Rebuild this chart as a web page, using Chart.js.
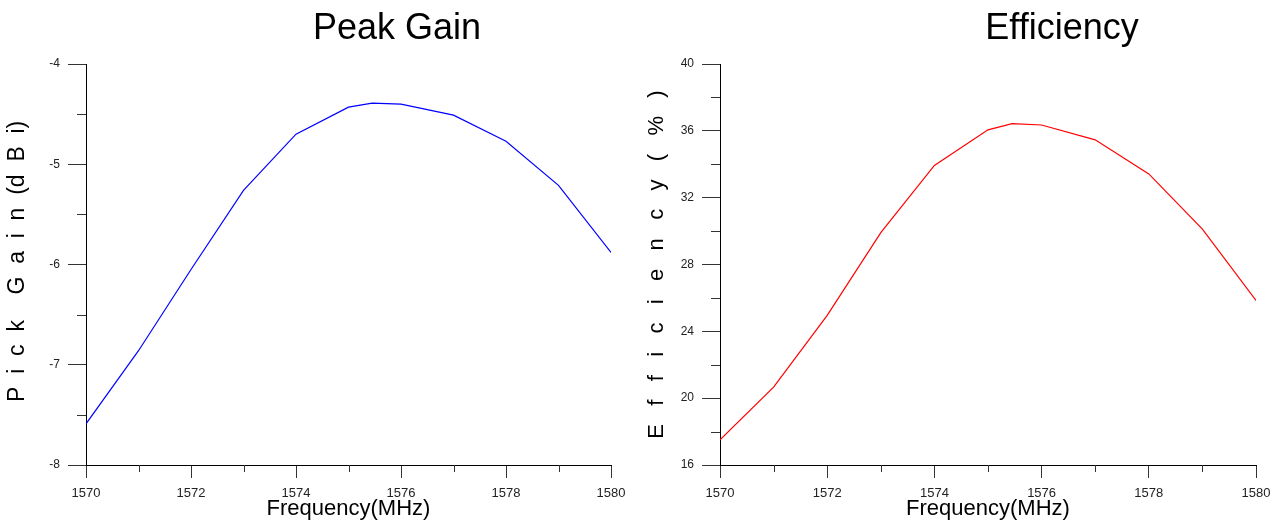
<!DOCTYPE html>
<html>
<head>
<meta charset="utf-8">
<script src="https://cdn.jsdelivr.net/npm/chart.js@4.4.1/dist/chart.umd.min.js"></script>
<style>
  html, body { margin: 0; padding: 0; background: #fff; }
  #wrap { position: relative; width: 1285px; height: 525px; }
  #c1 { position: absolute; left: 0; top: 0; }
  #c2 { position: absolute; left: 640px; top: 0; }
</style>
</head>
<body>
<div id="wrap">
  <canvas id="c1" width="640" height="525"></canvas>
  <canvas id="c2" width="645" height="525"></canvas>
</div>
<script>
// ---- data ----
const frequencies = [1570, 1571, 1572, 1573, 1574, 1575, 1575.45, 1576, 1577, 1578, 1579, 1580];
const peakGain = [-7.59, -6.86, -6.05, -5.26, -4.70, -4.43, -4.39, -4.40, -4.51, -4.77, -5.21, -5.88];
const efficiency = [17.5, 20.66, 24.96, 29.91, 33.93, 36.06, 36.43, 36.35, 35.46, 33.42, 30.12, 25.85];

const xTicksMajor = [1570, 1572, 1574, 1576, 1578, 1580];
const xTicksMinor = [1571, 1573, 1575, 1577, 1579];
const gainTicksMajor = [-8, -7, -6, -5, -4];
const gainTicksMinor = [-7.5, -6.5, -5.5, -4.5];
const effTicksMajor = [16, 20, 24, 28, 32, 36, 40];
const effTicksMinor = [18, 22, 26, 30, 34, 38];

const titles = ['Peak Gain', 'Efficiency'];
const yTitles = [' P  i  c  k    G  a  i  n  (d  B  i)', 'E   f   f   i   c   i   e   n   c   y   (   %   )'];
const xTitle = 'Frequency(MHz)';

const FONT = "'Liberation Sans', Arial, sans-serif";
const TICK_COLOR = '#333';

function isIn(arr, v) { return arr.some(a => Math.abs(a - v) < 1e-6); }

// plugin: minor ticks + big title
const extrasPlugin = {
  id: 'extras',
  afterDraw(chart, args, opts) {
    const ctx = chart.ctx;
    const xs = chart.scales.x, ys = chart.scales.y;
    ctx.save();
    ctx.strokeStyle = TICK_COLOR;
    ctx.lineWidth = 1;
    ctx.beginPath();
    opts.xMinor.forEach(v => {
      const px = Math.round(xs.getPixelForValue(v)) + 0.5;
      ctx.moveTo(px, xs.top);
      ctx.lineTo(px, xs.top + opts.xMinorLen);
    });
    opts.yMinor.forEach(v => {
      const py = Math.round(ys.getPixelForValue(v)) + 0.5;
      ctx.moveTo(ys.right, py);
      ctx.lineTo(ys.right - opts.yMinorLen, py);
    });
    ctx.stroke();
    // title
    ctx.fillStyle = '#000';
    ctx.font = '36px ' + FONT;
    ctx.textAlign = 'center';
    ctx.textBaseline = 'middle';
    ctx.fillText(opts.title, opts.titleX, opts.titleY);
    ctx.restore();
  }
};

function makeChart(canvasId, values, color, yMin, yMax, yStep, yMajor, yMinor, title, yTitle, yTitleSize, yAxisWidth, titleX) {
  return new Chart(document.getElementById(canvasId), {
    type: 'line',
    data: {
      datasets: [{
        data: frequencies.map((f, i) => ({ x: f, y: values[i] })),
        borderColor: color,
        borderWidth: 1.2,
        pointRadius: 0,
        tension: 0,
        fill: false
      }]
    },
    options: {
      responsive: false,
      animation: false,
      devicePixelRatio: 1,
      layout: { padding: { left: 0, right: 29, top: 64, bottom: 0 } },
      plugins: {
        legend: { display: false },
        tooltip: { enabled: false },
        extras: {
          xMinor: xTicksMinor, yMinor: yMinor,
          xMinorLen: 7, yMinorLen: 9,
          title: title, titleX: titleX, titleY: 29
        }
      },
      scales: {
        x: {
          type: 'linear',
          min: 1570, max: 1580,
          afterFit: (s) => { s.height = 60; },
          border: { display: true, color: '#000', width: 1 },
          grid: {
            display: true,
            drawOnChartArea: false,
            drawTicks: true,
            tickLength: 13,
            tickColor: (c) => (c.tick && isIn(xTicksMajor, c.tick.value)) ? TICK_COLOR : 'rgba(0,0,0,0)'
          },
          ticks: {
            stepSize: 1,
            autoSkip: false,
            maxRotation: 0,
            padding: 8,
            color: '#222',
            font: { family: FONT, size: 13 },
            callback: (v) => isIn(xTicksMajor, v) ? String(v) : ''
          },
          title: {
            display: true,
            text: xTitle,
            color: '#000',
            font: { family: FONT, size: 22 },
            padding: { top: 0, bottom: 3 }
          }
        },
        y: {
          type: 'linear',
          min: yMin, max: yMax,
          afterFit: (s) => { s.width = yAxisWidth; },
          border: { display: true, color: '#000', width: 1 },
          grid: {
            display: true,
            drawOnChartArea: false,
            drawTicks: true,
            tickLength: 18,
            tickColor: (c) => (c.tick && isIn(yMajor, c.tick.value)) ? TICK_COLOR : 'rgba(0,0,0,0)'
          },
          ticks: {
            stepSize: yStep,
            autoSkip: false,
            padding: 8,
            color: '#222',
            font: { family: FONT, size: 12 },
            callback: (v) => isIn(yMajor, v) ? String(v) : ''
          },
          title: {
            display: true,
            text: yTitle,
            color: '#000',
            font: { family: FONT, size: yTitleSize },
            padding: { top: 4, bottom: 0 }
          }
        }
      }
    },
    plugins: [extrasPlugin]
  });
}

makeChart('c1', peakGain, '#0000ff', -8, -4, 0.5, gainTicksMajor, gainTicksMinor, titles[0], yTitles[0], 23, 86, 397);
makeChart('c2', efficiency, '#ff0000', 16, 40, 2, effTicksMajor, effTicksMinor, titles[1], yTitles[1], 22, 80, 422);
</script>
</body>
</html>
